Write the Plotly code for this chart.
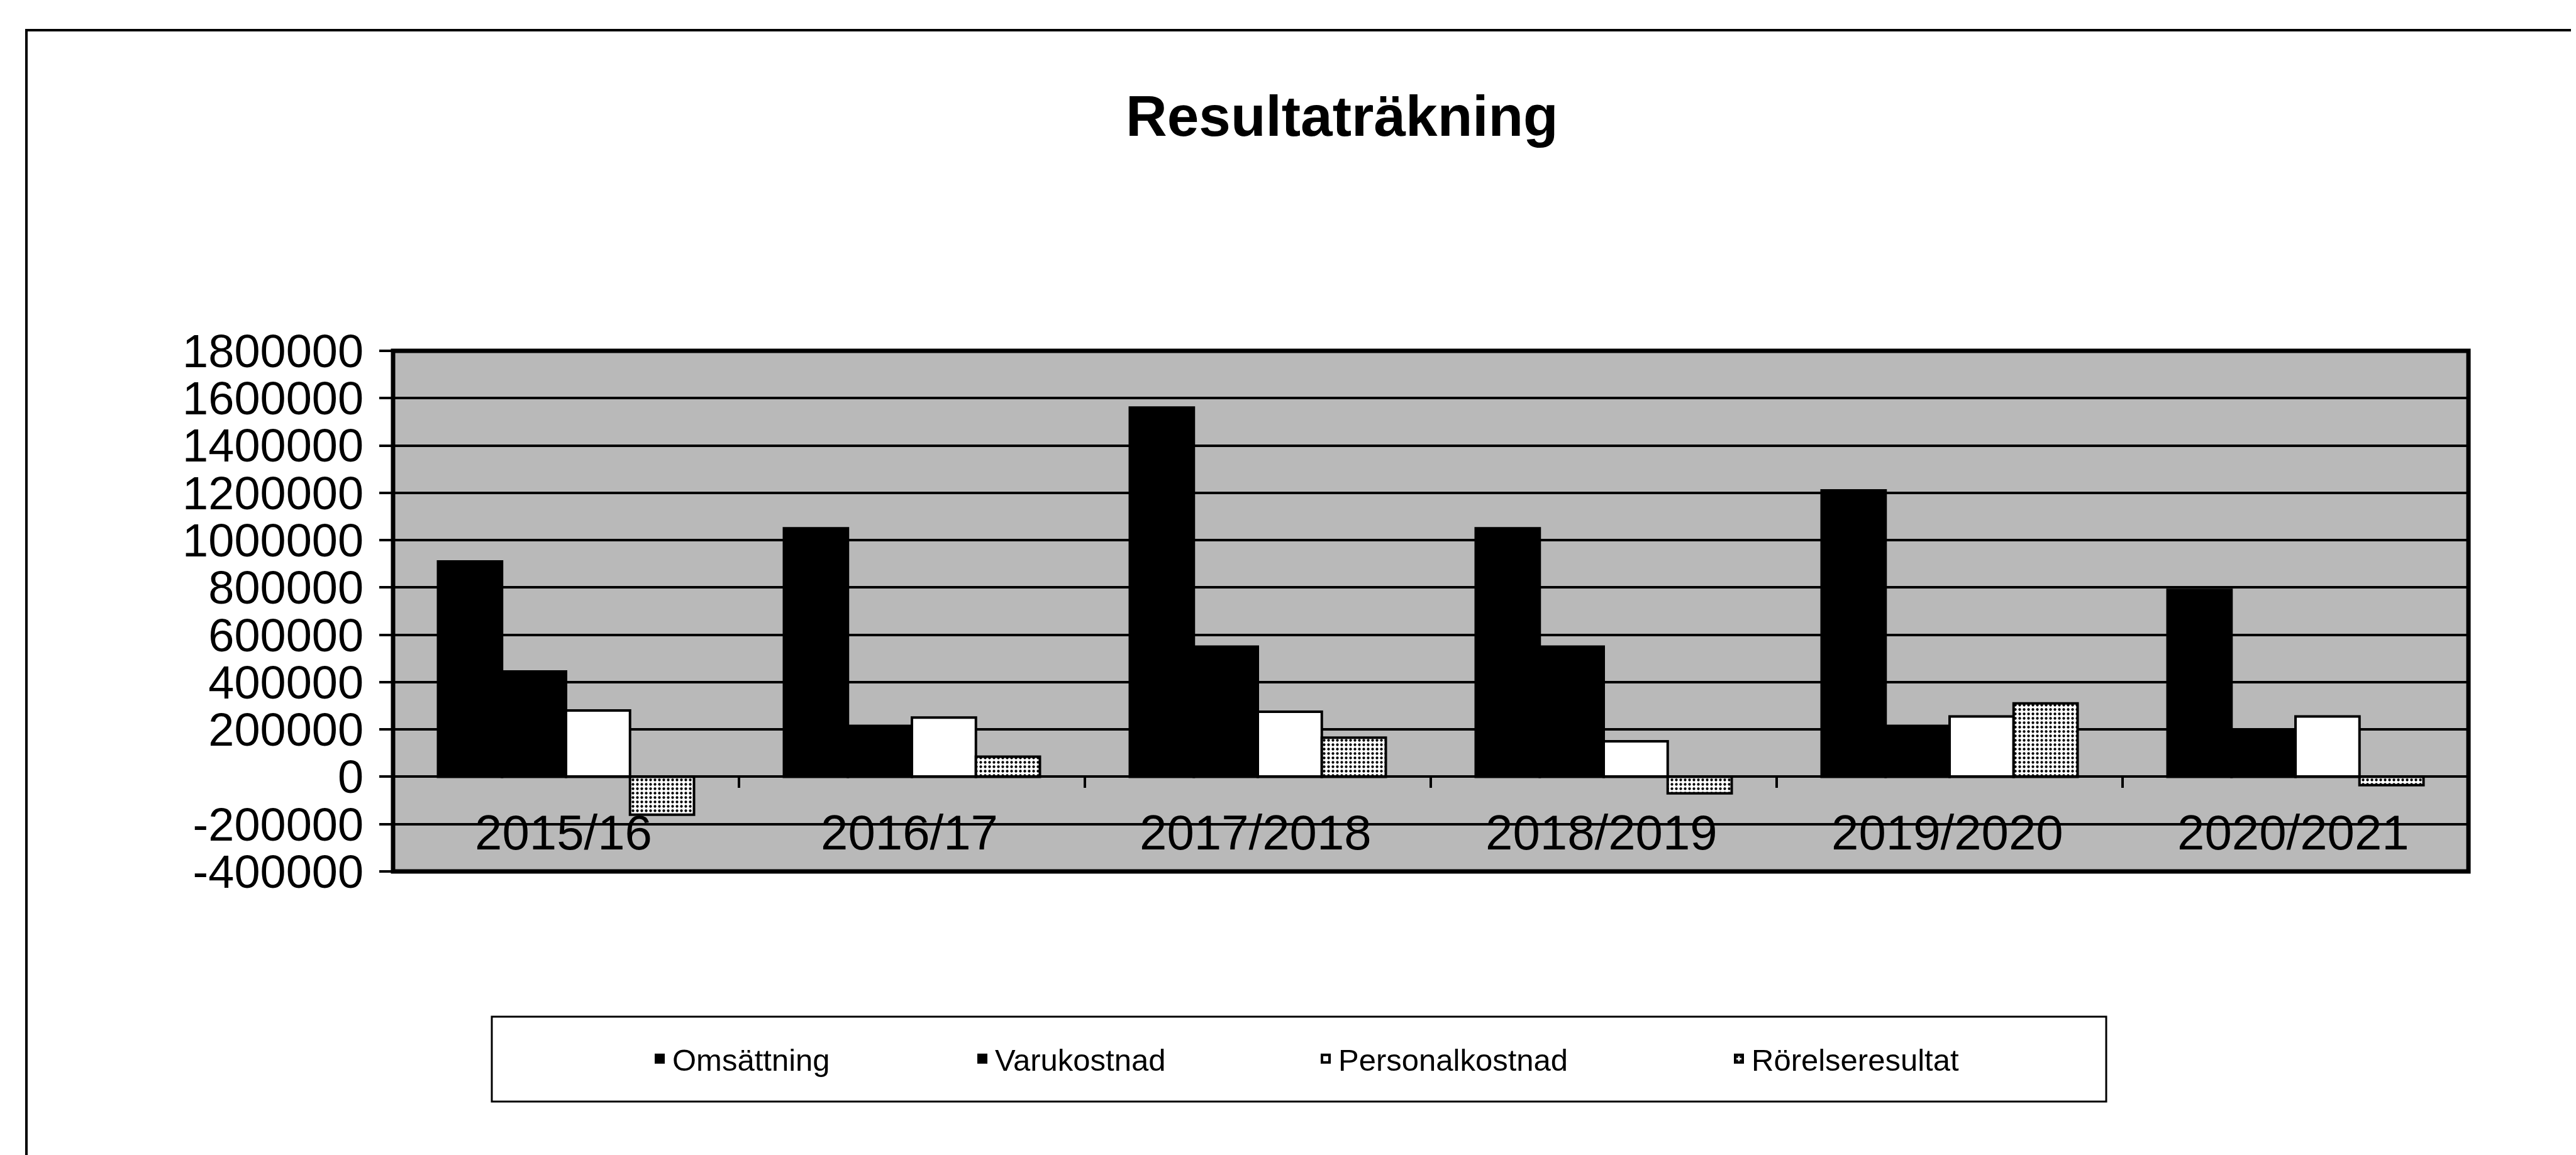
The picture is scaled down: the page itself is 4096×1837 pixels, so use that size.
import plotly.graph_objects as go

# ---------------- data ----------------
categories = ["2015/16", "2016/17", "2017/2018", "2018/2019", "2019/2020", "2020/2021"]
omsattning = [910000, 1050000, 1560000, 1050000, 1210000, 790000]
varukostnad = [445000, 215000, 550000, 550000, 215000, 190000]
personalkostnad = [280000, 250000, 275000, 150000, 255000, 255000]
rorelseresultat = [-160000, 85000, 165000, -70000, 310000, -35000]
series_names = ["Omsättning", "Varukostnad", "Personalkostnad", "Rörelseresultat"]
y_ticks = [1800000, 1600000, 1400000, 1200000, 1000000, 800000, 600000, 400000,
           200000, 0, -200000, -400000]
title_text = "Resultaträkning"

# ---------------- layout geometry (pixels) ----------------
W, H = 4096, 1837
L, R, T, B = 617, 179, 550, 459
PW, PH = W - L - R, H - T - B
FONT = "Arial, Liberation Sans, sans-serif"
YMIN, YMAX = -400000, 1800000


def px_x(p):
    return (p - L) / PW


def px_y(p):
    return (H - B - p) / PH


fig = go.Figure()

series = [omsattning, varukostnad, personalkostnad, rorelseresultat]
fills = ["black", "black", "white", "white"]
legends = ["legend", "legend2", "legend3", "legend4"]
for name, vals, fc, lg in zip(series_names, series, fills, legends):
    marker = dict(color=fc, line=dict(color="black", width=4))
    if name == "Rörelseresultat":
        marker["pattern"] = dict(shape=".", fgcolor="black", bgcolor="white",
                                 size=7, solidity=0.3, fillmode="replace")
    fig.add_trace(go.Bar(x=categories, y=vals, name=name, marker=marker,
                         legend=lg, showlegend=True))

# category labels inside the plot (as in the original)
for c in categories:
    fig.add_annotation(x=c, y=-235000, xref="x", yref="y", text=c,
                       showarrow=False, yanchor="middle", xanchor="center",
                       xshift=-4,
                       font=dict(family=FONT, size=78, color="black"))

# legend positions (symbol centre in pixels)
leg_centres = [1043, 1556, 2102, 2759]
leg_y = 1676
legend_common = dict(orientation="h", xref="container", yref="container",
                     xanchor="left", yanchor="middle", bgcolor="rgba(0,0,0,0)",
                     borderwidth=0, font=dict(family=FONT, size=49, color="black"))
legend_layout = {}
for lg, cx in zip(legends, leg_centres):
    d = dict(legend_common)
    d["x"] = (cx - 22) / W
    d["y"] = 1 - leg_y / H
    legend_layout[lg] = d

shapes = [
    # plot area frame
    dict(type="rect", xref="paper", yref="paper", x0=0, x1=1, y0=0, y1=1,
         line=dict(color="black", width=7), layer="above"),
    # legend box
    dict(type="rect", xref="paper", yref="paper",
         x0=px_x(774), x1=px_x(3341), y0=px_y(1744), y1=px_y(1609),
         line=dict(color="black", width=3), fillcolor="rgba(0,0,0,0)"),
    # outer page frame (top + left)
    dict(type="line", xref="paper", yref="paper",
         x0=px_x(34), x1=px_x(W + 5), y0=px_y(40), y1=px_y(40),
         line=dict(color="black", width=4)),
    dict(type="line", xref="paper", yref="paper",
         x0=px_x(34), x1=px_x(34), y0=px_y(38), y1=px_y(H + 5),
         line=dict(color="black", width=4)),
]

fig.update_layout(
    width=W, height=H,
    margin=dict(l=L, r=R, t=T, b=B, autoexpand=False),
    paper_bgcolor="white",
    plot_bgcolor="#b9b9b9",
    barmode="group",
    bargap=0.26,
    bargroupgap=0,
    title=dict(text="<b>" + title_text + "</b>", xref="container", yref="container",
               x=0.519, y=1 - 176 / H, xanchor="center", yanchor="middle",
               font=dict(family=FONT, size=91, color="black")),
    xaxis=dict(anchor="free", position=-YMIN / (YMAX - YMIN),
               showline=True, linecolor="black", linewidth=4,
               ticks="outside", ticklen=16, tickwidth=4, tickcolor="black",
               tickson="boundaries", showticklabels=False, showgrid=False,
               automargin=False),
    yaxis=dict(range=[YMIN, YMAX], tickvals=y_ticks,
               ticktext=[str(v) for v in y_ticks],
               showgrid=True, gridcolor="black", gridwidth=4,
               zeroline=True, zerolinecolor="black", zerolinewidth=4,
               ticks="outside", ticklen=21, tickwidth=4, tickcolor="black",
               ticklabelstandoff=10,
               tickfont=dict(family=FONT, size=74, color="black"),
               showline=False, automargin=False),
    shapes=shapes,
    **legend_layout,
)

fig.write_html("out.html")
